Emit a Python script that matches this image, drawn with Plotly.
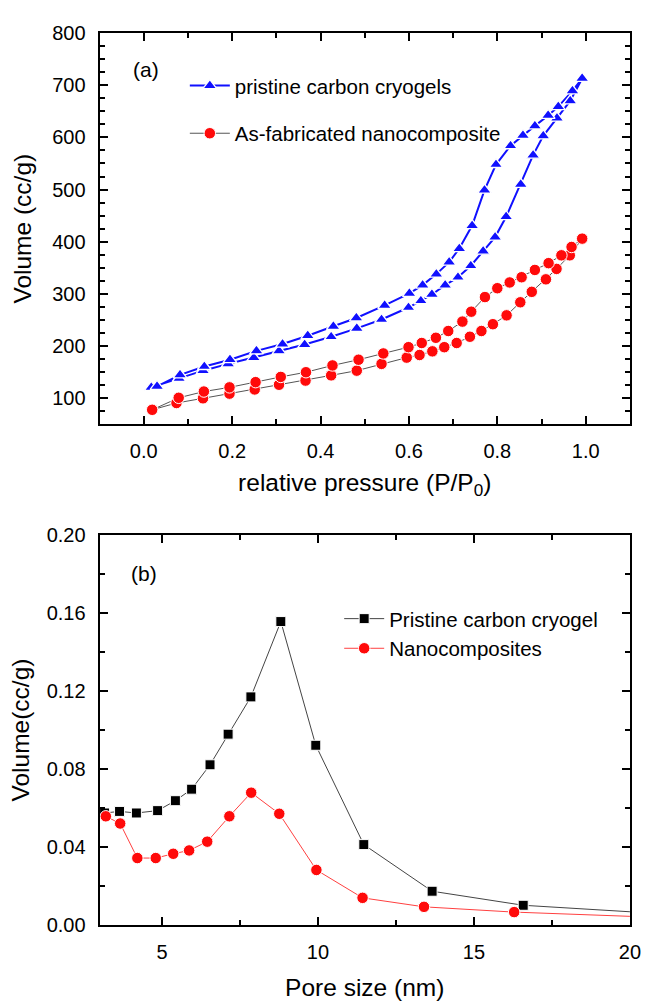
import plotly.graph_objects as go

# ---------------- (a) N2 sorption isotherms ----------------
# pristine carbon cryogels: adsorption branch, then desorption branch
p_ads_cryogel = [0.017, 0.080, 0.134, 0.191, 0.249, 0.306, 0.364, 0.424, 0.482, 0.538,
                 0.599, 0.627, 0.652, 0.682, 0.711, 0.740, 0.768, 0.795, 0.820, 0.853,
                 0.881, 0.904, 0.935, 0.965, 0.992]
v_ads_cryogel = [121, 138, 153, 166, 178, 191, 203, 218, 234, 251,
                 274, 287, 299, 317, 332, 354, 382, 409, 448, 510,
                 566, 603, 637, 670, 713]
p_des_cryogel = [0.970, 0.938, 0.915, 0.885, 0.858, 0.830, 0.797, 0.771, 0.743, 0.714,
                 0.691, 0.662, 0.631, 0.601, 0.545, 0.481, 0.429, 0.371, 0.314, 0.255,
                 0.195, 0.137, 0.082, 0.030]
v_des_cryogel = [689, 659, 642, 622, 604, 584, 548, 499, 431, 387,
                 361, 338, 317, 301, 278, 254, 238, 220, 204, 191,
                 174, 161, 145, 123]

# as-fabricated nanocomposite: adsorption branch, then desorption branch
p_ads_nano = [0.019, 0.074, 0.134, 0.194, 0.251, 0.306, 0.366, 0.424, 0.482, 0.538,
              0.595, 0.624, 0.653, 0.680, 0.708, 0.738, 0.764, 0.790, 0.821, 0.852,
              0.878, 0.910, 0.934, 0.964, 0.992]
v_ads_nano = [78, 91, 100, 109, 117, 126, 134, 144, 153, 166,
              178, 183, 190, 198, 206, 218, 229, 242, 259, 284,
              304, 328, 348, 374, 406]
p_des_nano = [0.968, 0.945, 0.916, 0.885, 0.855, 0.828, 0.800, 0.772, 0.741, 0.721,
              0.689, 0.661, 0.629, 0.599, 0.542, 0.486, 0.427, 0.367, 0.310, 0.253,
              0.194, 0.136, 0.079, 0.019]
v_des_nano = [390, 374, 359, 346, 332, 322, 311, 294, 266, 247,
              229, 216, 206, 198, 186, 174, 163, 150, 141, 131,
              121, 113, 101, 78]

# ---------------- (b) pore size distributions ----------------
pore_cryogel = [3.16, 3.64, 4.18, 4.86, 5.43, 5.95, 6.54, 7.12, 7.85, 8.81,
                9.93, 11.47, 13.66, 16.58, 20.9]
dv_cryogel = [0.0575, 0.0583, 0.0575, 0.0587, 0.0638, 0.0697, 0.0822, 0.0979, 0.1170, 0.1556,
              0.0922, 0.0413, 0.0174, 0.0102, 0.0060]
pore_nano = [3.20, 3.66, 4.21, 4.80, 5.36, 5.87, 6.45, 7.16, 7.86, 8.76,
             9.95, 11.43, 13.40, 16.29, 20.9]
dv_nano = [0.0558, 0.0521, 0.0344, 0.0344, 0.0366, 0.0383, 0.0428, 0.0558, 0.0679, 0.0571,
           0.0283, 0.0140, 0.0094, 0.0067, 0.0040]

FONT = "Arial, 'Liberation Sans', sans-serif"
W, H = 652, 1002
BLUE = "#1010ff"
RED = "#ff0a0a"


def px_x(a, b):
    return [a / W, b / W]


def px_y(top, bottom):
    return [1 - bottom / H, 1 - top / H]


fig = go.Figure()

fig.add_trace(go.Scatter(
    x=p_ads_cryogel + p_des_cryogel, y=v_ads_cryogel + v_des_cryogel,
    mode="lines+markers", name="pristine carbon cryogels",
    line=dict(color=BLUE, width=2),
    marker=dict(symbol="triangle-up", size=12, color=BLUE, line=dict(color="white", width=1.3)),
    xaxis="x", yaxis="y", legend="legend", legendgroup="a1"))

fig.add_trace(go.Scatter(
    x=p_ads_nano + p_des_nano, y=v_ads_nano + v_des_nano,
    mode="lines+markers", name="As-fabricated nanocomposite",
    line=dict(color="#555555", width=1),
    marker=dict(symbol="circle", size=11.5, color=RED, line=dict(color="white", width=1)),
    xaxis="x", yaxis="y", legend="legend", legendgroup="a2"))

fig.add_trace(go.Scatter(
    x=pore_cryogel, y=dv_cryogel,
    mode="lines+markers", name="Pristine carbon cryogel",
    line=dict(color="#444444", width=1),
    marker=dict(symbol="square", size=10, color="black", line=dict(color="white", width=1)),
    xaxis="x2", yaxis="y2", legend="legend2"))

fig.add_trace(go.Scatter(
    x=pore_nano, y=dv_nano,
    mode="lines+markers", name="Nanocomposites",
    line=dict(color="#ff4040", width=1),
    marker=dict(symbol="circle", size=11.5, color=RED, line=dict(color="white", width=1)),
    xaxis="x2", yaxis="y2", legend="legend2"))

axis_common = dict(
    showline=True, linewidth=2, linecolor="black", mirror="allticks",
    ticks="inside", ticklen=8, tickwidth=1.5, tickcolor="black",
    showgrid=False, zeroline=False,
    tickfont=dict(family=FONT, size=20, color="black"),
    title_font=dict(family=FONT, size=24.5, color="black"),
)

fig.update_layout(
    width=W, height=H,
    margin=dict(l=0, r=0, t=0, b=0),
    paper_bgcolor="white", plot_bgcolor="white",
    font=dict(family=FONT, color="black"),
    xaxis=dict(axis_common, domain=px_x(101.3, 640.7), anchor="y",
               range=[-0.1, 1.1], dtick=0.2, tick0=0, tickformat=".1f",
               minor=dict(ticks="inside", ticklen=5, dtick=0.1, tickwidth=1.5, tickcolor="black"),
               title=dict(text="relative pressure (P/P<sub>0</sub>)", standoff=12),
               ticklabelstandoff=8),
    yaxis=dict(axis_common, domain=px_y(22.5, 422.7), anchor="x",
               range=[50, 800], dtick=100, tick0=0,
               minor=dict(ticks="inside", ticklen=5, dtick=25, tickwidth=1.5, tickcolor="black"),
               title=dict(text="Volume (cc/g)", standoff=14),
               ticklabelstandoff=8),
    xaxis2=dict(axis_common, domain=px_x(101.3, 640.7), anchor="y2",
                range=[3, 20], dtick=5, tick0=0,
                minor=dict(ticks="inside", ticklen=5, dtick=2.5, tickwidth=1.5, tickcolor="black"),
                title=dict(text="Pore size (nm)", standoff=17),
                ticklabelstandoff=8),
    yaxis2=dict(axis_common, domain=px_y(535.7, 934.7), anchor="x2",
                range=[0, 0.2], dtick=0.04, tick0=0, tickformat=".2f",
                minor=dict(ticks="inside", ticklen=5, dtick=0.02, tickwidth=1.5, tickcolor="black"),
                title=dict(text="Volume(cc/g)", standoff=10),
                ticklabelstandoff=8),
    legend=dict(x=188 / W, y=1 - 56 / H, xanchor="left", yanchor="top",
                bgcolor="rgba(0,0,0,0)", font=dict(family=FONT, size=20.5, color="black"),
                tracegroupgap=18, itemwidth=40),
    legend2=dict(x=345 / W, y=1 - 601 / H, xanchor="left", yanchor="top",
                 bgcolor="rgba(0,0,0,0)", font=dict(family=FONT, size=20.5, color="black"),
                 itemwidth=40),
    annotations=[
        dict(text="(a)", x=133 / W, y=1 - 60 / H, xref="paper", yref="paper",
             xanchor="left", yanchor="middle", showarrow=False,
             font=dict(family=FONT, size=21, color="black")),
        dict(text="(b)", x=131 / W, y=1 - 575 / H, xref="paper", yref="paper",
             xanchor="left", yanchor="middle", showarrow=False,
             font=dict(family=FONT, size=21, color="black")),
    ],
)

fig.write_html("out.html")
